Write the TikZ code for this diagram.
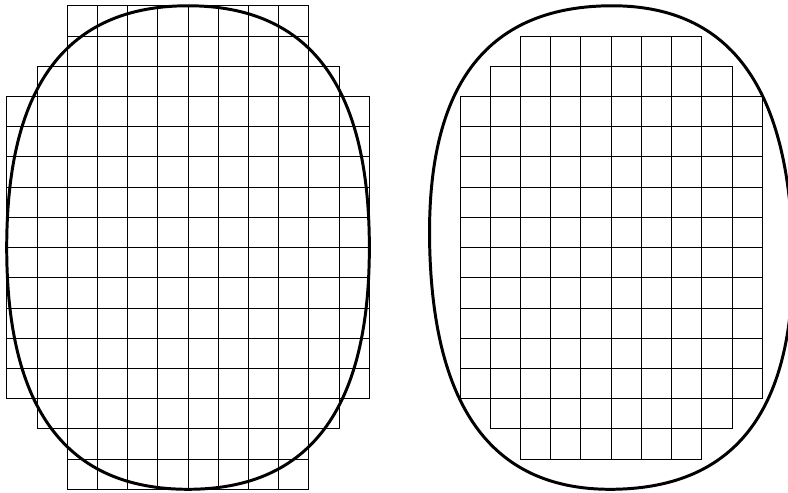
\documentclass[tikz,border=0pt]{standalone}
\begin{document}
\begin{tikzpicture}[x=0.5cm,y=0.5cm, cell/.style={line width=0.4pt,black,step=0.5cm}, outline/.style={line width=1.4pt,black}]
  \clip (-0.222,-0.122) rectangle (25.853,16.191);
  % outer cover (left)
  \draw[cell] (2,0) grid (10,2);
  \draw[cell] (1,2) grid (11,3);
  \draw[cell] (0,3) grid (12,13);
  \draw[cell] (1,13) grid (11,14);
  \draw[cell] (2,14) grid (10,16);
  \draw[outline,shift={(6,8)}] (6,0) .. controls (6,5.36) and (4.02,8) .. (0,8) .. controls (-4.02,8) and (-6,5.36) .. (-6,0) .. controls (-6,-5.36) and (-4.02,-8) .. (0,-8) .. controls (4.02,-8) and (6,-5.36) .. (6,0) -- cycle;
  % inner cover (right)
  \draw[cell] (17,1) grid (23,2);
  \draw[cell] (16,2) grid (24,3);
  \draw[cell] (15,3) grid (25,13);
  \draw[cell] (16,13) grid (24,14);
  \draw[cell] (17,14) grid (23,15);
  \draw[outline,shift={(20,8)},rotate=2] (6,0) .. controls (6,5.36) and (4.02,8) .. (0,8) .. controls (-4.02,8) and (-6,5.36) .. (-6,0) .. controls (-6,-5.36) and (-4.02,-8) .. (0,-8) .. controls (4.02,-8) and (6,-5.36) .. (6,0) -- cycle;
\end{tikzpicture}
\end{document}
